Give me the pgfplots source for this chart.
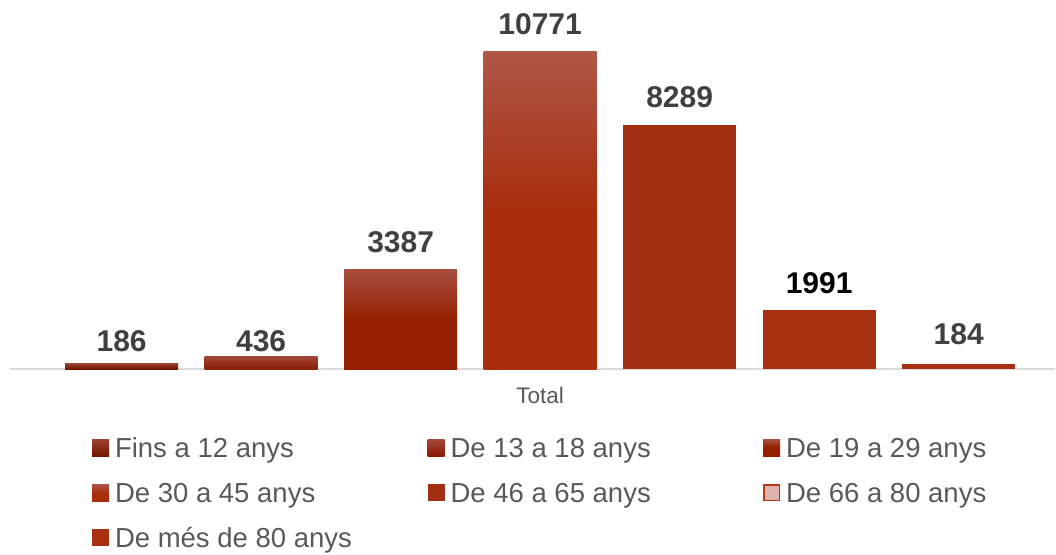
\documentclass[border=0pt]{standalone}
\usepackage{pgfplots}
\pgfplotsset{compat=1.18}
\usepackage{fontspec}
\setmainfont{Liberation Sans}
\definecolor{axisgray}{HTML}{D9D9D9}
\definecolor{valgray}{HTML}{404040}
\definecolor{legtext}{HTML}{595959}
\definecolor{cAtop}{HTML}{9C4232}
\definecolor{cAbot}{HTML}{741400}
\definecolor{cBtop}{HTML}{A2483A}
\definecolor{cBbot}{HTML}{8A1C00}
\definecolor{cCtop}{HTML}{A84E40}
\definecolor{cCbot}{HTML}{952000}
\definecolor{cDtop}{HTML}{B05647}
\definecolor{cDbot}{HTML}{A82E0C}
\definecolor{cE}{HTML}{A33012}
\definecolor{cF}{HTML}{A8300F}
\definecolor{cFleg}{HTML}{DDB3AE}
\definecolor{cFedge}{HTML}{B5381C}
\definecolor{cG}{HTML}{A8300F}
\begin{document}
\begin{tikzpicture}[x=1pt,y=1pt]
\useasboundingbox (0,0) rectangle (1056,554);
\begin{axis}[
  at={(10pt,185pt)}, anchor=south west,
  scale only axis, width=1045pt, height=353.2pt,
  xmin=-0.8, xmax=6.69, ymin=0, ymax=12000,
  ybar, bar width=113pt,
  axis y line=none, axis x line*=bottom,
  x axis line style={draw=axisgray, line width=2pt},
  xtick={3}, xticklabels={Total}, major tick length=0pt,
  xticklabel style={font=\fontsize{22.5}{24}\selectfont, text=legtext, anchor=center, inner sep=0pt, text height=16.1pt, text depth=0pt, yshift=-26.5pt},
  clip=false,
  point meta=explicit symbolic,
  nodes near coords,
  every node near coord/.append style={font=\fontsize{30}{32}\selectfont\bfseries, text=valgray, anchor=center, inner sep=0pt, text height=21.5pt, text depth=0pt, yshift=28pt},
  legend image code/.code={\path (0pt,0pt) -- (23pt,0pt); \path[#1, draw=none] (0pt,-8.5pt) rectangle (17pt,8.5pt);},
  legend columns=3,
  legend cell align=left,
  legend style={at={(axis description cs:0.0785,-0.1945)}, anchor=north west, draw=none, fill=none, inner sep=0pt, outer sep=0pt, column sep=0pt, row sep=25.3pt, font=\fontsize{27.5}{29}\selectfont, text=legtext, nodes={inner sep=0pt, text height=19.7pt, text depth=0pt, anchor=west}},
]
\addplot[draw=none, bar shift=0pt, top color=cAtop, bottom color=cAbot, every node near coord/.append style={yshift=-5.5pt}] coordinates {(0,186) [186]};
\addlegendentry{\makebox[312.5pt][l]{Fins a 12 anys}}
\addplot[draw=none, bar shift=0pt, top color=cBtop, bottom color=cBbot, every node near coord/.append style={yshift=-13pt}] coordinates {(1,436) [436]};
\addlegendentry{\makebox[312.5pt][l]{De 13 a 18 anys}}
\addplot[draw=none, bar shift=0pt, top color=cCtop, bottom color=cCbot, middle color=cCbot] coordinates {(2,3387) [3387]};
\addlegendentry{\makebox[312.5pt][l]{De 19 a 29 anys}}
\addplot[draw=none, bar shift=0pt, top color=cDtop, bottom color=cDbot, middle color=cDbot] coordinates {(3,10771) [10771]};
\addlegendentry{\makebox[312.5pt][l]{De 30 a 45 anys}}
\addplot[draw=none, bar shift=0pt, fill=cE] coordinates {(4,8289) [8289]};
\addlegendentry{\makebox[312.5pt][l]{De 46 a 65 anys}}
\addplot[draw=none, bar shift=0pt, fill=cF, every node near coord/.append style={text=black},
  legend image code/.code={\path (0pt,0pt) -- (23pt,0pt); \path[fill=cFleg, draw=cFedge, line width=1.5pt] (0.75pt,-7.75pt) rectangle (16.25pt,7.75pt);}] coordinates {(5,1991) [1991]};
\addlegendentry{\makebox[312.5pt][l]{De 66 a 80 anys}}
\addplot[draw=none, bar shift=0pt, fill=cG, every node near coord/.append style={yshift=1.6pt}] coordinates {(6,184) [184]};
\addlegendentry{\makebox[312.5pt][l]{De més de 80 anys}}
\end{axis}
\end{tikzpicture}
\end{document}
